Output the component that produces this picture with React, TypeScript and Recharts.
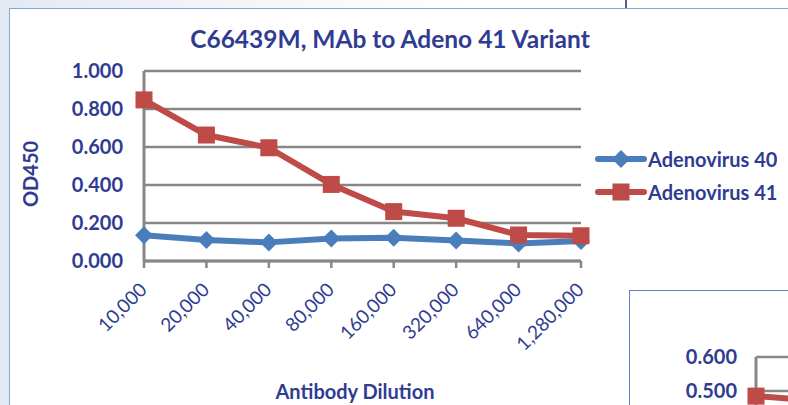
import React from "react";
import { LineChart, Line, XAxis, YAxis, CartesianGrid } from "recharts";

const dilutions = ["10,000", "20,000", "40,000", "80,000", "160,000", "320,000", "640,000", "1,280,000"];
const adeno40 = [0.135, 0.11, 0.098, 0.118, 0.122, 0.108, 0.092, 0.105];
const adeno41 = [0.848, 0.663, 0.596, 0.403, 0.26, 0.225, 0.137, 0.133];
const yTicks = [0, 0.2, 0.4, 0.6, 0.8, 1.0];

// the neighbouring chart that peeks in at the bottom right
const insetDilutions = ["10,000", "20,000"];
const insetAdeno41 = [0.485, 0.45];
const insetTicks = [0.5, 0.6];

const BLUE = "#4a7ebb";
const RED = "#be4b48";
const GRID = "#878787";
const INK = "#2f3c91";
const FONT = "Lato, 'Open Sans', sans-serif";

const rows = dilutions.map((d, i) => ({ dilution: d, a40: adeno40[i], a41: adeno41[i] }));
const insetRows = insetDilutions.map((d, i) => ({ dilution: d, a41: insetAdeno41[i] }));

const series = [
  { key: "a40", name: "Adenovirus 40", color: BLUE, shape: "diamond" },
  { key: "a41", name: "Adenovirus 41", color: RED, shape: "square" },
];

function Marker({ cx, cy, shape, color }: any) {
  if (shape === "diamond") {
    const r = 9;
    return <polygon points={`${cx},${cy - r} ${cx + r},${cy} ${cx},${cy + r} ${cx - r},${cy}`} fill={color} />;
  }
  return <rect x={cx - 8.5} y={cy - 8.5} width={17} height={17} fill={color} />;
}

const XTick = ({ x, y, payload }: any) => (
  <g transform={`translate(${x + 4},${y + 21})`}>
    <text textAnchor="end" transform="rotate(-45)" fill={INK} fontSize={19} fontFamily={FONT}>
      {payload.value}
    </text>
  </g>
);

const YTick = ({ y, payload }: any) => (
  <text x={123} y={y} dy="0.36em" textAnchor="end" fill={INK} fontSize={20} fontWeight={700} fontFamily={FONT}>
    {Number(payload.value).toFixed(3)}
  </text>
);

const InsetYTick = ({ y, payload }: any) => (
  <text x={108} y={y} dy="0.36em" textAnchor="end" fill={INK} fontSize={20} fontWeight={700} fontFamily={FONT}>
    {Number(payload.value).toFixed(3)}
  </text>
);

export default function App() {
  return (
    <div
      style={{
        position: "absolute", left: 0, top: 0, width: 788, height: 405, overflow: "hidden",
        background: "linear-gradient(90deg, #e3e9f3 0%, #f3f5f9 30%, #ffffff 60%)",
        fontFamily: FONT,
      }}
    >
      <div style={{ position: "absolute", left: 625, top: 0, width: 1.5, height: 8, background: "#56657f" }} />
      <div style={{ position: "absolute", left: 9, top: 8, width: 820, height: 430, background: "#fff", border: "1.5px solid #8aa5d3" }} />

      <div style={{ position: "absolute", left: 90, top: 24, width: 600, textAlign: "center", color: INK, fontSize: 24.5, fontWeight: 700 }}>
        C66439M, MAb to Adeno 41 Variant
      </div>
      <div style={{ position: "absolute", left: 30, top: 174, width: 0, height: 0 }}>
        <div style={{ position: "absolute", transform: "translate(-50%,-50%) rotate(-90deg)", color: INK, fontSize: 20, fontWeight: 700, whiteSpace: "nowrap" }}>
          OD450
        </div>
      </div>
      <div style={{ position: "absolute", left: 205, top: 379, width: 300, textAlign: "center", color: INK, fontSize: 20, fontWeight: 700 }}>
        Antibody Dilution
      </div>

      <div style={{ position: "absolute", left: 0, top: 0 }}>
        <LineChart width={788} height={405} data={rows} margin={{ top: 71, right: 207, bottom: 114, left: 74 }}>
          <CartesianGrid vertical={false} stroke={GRID} strokeWidth={2.5} />
          <XAxis dataKey="dilution" height={30} interval={0} tickSize={7}
            axisLine={{ stroke: GRID, strokeWidth: 3 }} tickLine={{ stroke: GRID, strokeWidth: 2.5 }} tick={<XTick />} />
          <YAxis width={70} domain={[0, 1]} ticks={yTicks} tickLine={false}
            axisLine={{ stroke: GRID, strokeWidth: 3 }} tick={<YTick />} />
          {series.map((s) => (
            <Line key={s.key} dataKey={s.key} name={s.name} stroke={s.color} strokeWidth={6}
              strokeLinejoin="round" isAnimationActive={false} activeDot={false}
              dot={(p: any) => <Marker key={`${s.key}-${p.index}`} cx={p.cx} cy={p.cy} shape={s.shape} color={s.color} />} />
          ))}
        </LineChart>
      </div>

      <div style={{ position: "absolute", left: 595, top: 142 }}>
        {series.map((s) => (
          <div key={s.key} style={{ display: "flex", alignItems: "center", height: 33 }}>
            <svg width={52} height={24}>
              <line x1={3} x2={49} y1={12} y2={12} stroke={s.color} strokeWidth={6} strokeLinecap="round" />
              <Marker cx={26} cy={12} shape={s.shape} color={s.color} />
            </svg>
            <span style={{ color: INK, fontSize: 20, fontWeight: 700, marginLeft: 1, whiteSpace: "nowrap" }}>{s.name}</span>
          </div>
        ))}
      </div>

      <div style={{ position: "absolute", left: 629, top: 290, width: 300, height: 300, background: "#fff", border: "1.5px solid #5b86c6" }} />
      <div style={{ position: "absolute", left: 629, top: 290 }}>
        <LineChart width={300} height={400} data={insetRows} margin={{ top: 67, right: 20, bottom: 99, left: 57 }}>
          <CartesianGrid vertical={false} stroke={GRID} strokeWidth={2.5} />
          <XAxis dataKey="dilution" height={30} tick={false} axisLine={{ stroke: GRID, strokeWidth: 3 }} />
          <YAxis width={70} domain={[0, 0.6]} ticks={insetTicks} tickLine={false}
            axisLine={{ stroke: GRID, strokeWidth: 3 }} tick={<InsetYTick />} />
          <Line dataKey="a41" stroke={RED} strokeWidth={6} isAnimationActive={false} activeDot={false}
            dot={(p: any) => <Marker key={`in-${p.index}`} cx={p.cx} cy={p.cy} shape="square" color={RED} />} />
        </LineChart>
      </div>
    </div>
  );
}
